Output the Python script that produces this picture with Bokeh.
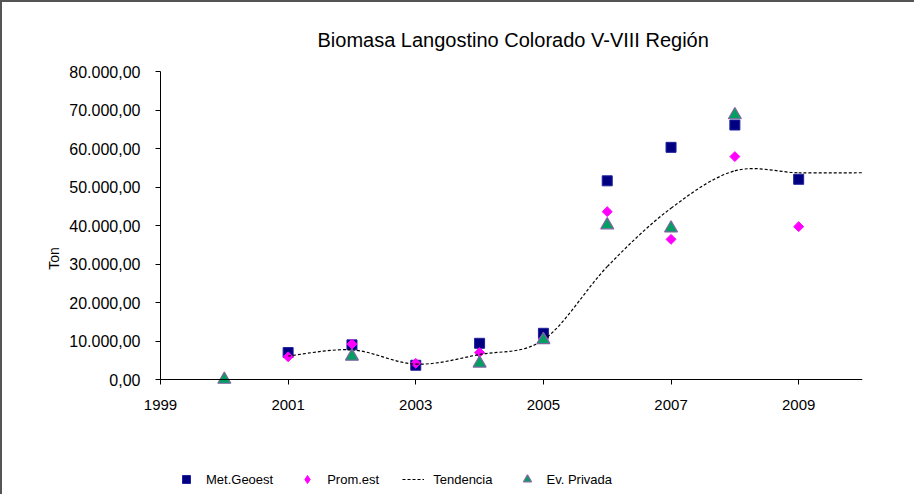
import math
from bokeh.plotting import figure
from bokeh.models import Range1d, FixedTicker, Legend, LegendItem, ColumnDataSource, Label
from bokeh.embed import file_html
from bokeh.resources import INLINE

# ---- data ----
title_text = "Biomasa Langostino Colorado V-VIII Región"
y_label = "Ton"

met_geoest_years = [2001, 2002, 2003, 2004, 2005, 2006, 2007, 2008, 2009]
met_geoest = [7000, 9000, 3700, 9400, 12000, 51600, 60300, 66100, 52000]

prom_est_years = [2001, 2002, 2003, 2004, 2005, 2006, 2007, 2008, 2009]
prom_est = [5900, 9200, 4200, 7000, 10500, 43600, 36400, 57900, 39700]

ev_privada_years = [2000, 2002, 2004, 2005, 2006, 2007, 2008]
ev_privada = [0, 6000, 4200, 10300, 40100, 39300, 68700]

tendencia_years = [2001, 2002, 2003, 2004, 2005, 2006, 2007, 2008, 2009, 2010]
tendencia = [6100, 7700, 4000, 6500, 10300, 29300, 44500, 54200, 53700, 53700]

x_ticks = [1999, 2001, 2003, 2005, 2007, 2009]
x_tick_labels = ["1999", "2001", "2003", "2005", "2007", "2009"]
y_ticks = [0, 10000, 20000, 30000, 40000, 50000, 60000, 70000, 80000]
y_tick_labels = ["0,00", "10.000,00", "20.000,00", "30.000,00", "40.000,00",
                 "50.000,00", "60.000,00", "70.000,00", "80.000,00"]

FONT = "Liberation Sans"

# ---- layout constants (pixels) ----
X_MIN, X_MAX = 1999, 2010
Y_MIN, Y_MAX = 0, 80000
AXIS_W = 702           # pixels from X_MIN to X_MAX
AXIS_H = 308           # pixels from Y_MIN to Y_MAX
LEFT_PX = 148          # frame pixels left of the y axis (tick labels live there)
BELOW_PX = 117         # frame pixels below the x axis (legend lives there)
ABOVE_PX = 12          # frame pixels above the top tick (so its label is not cut)
x_start = X_MIN - (X_MAX - X_MIN) * LEFT_PX / AXIS_W
y_start = Y_MIN - (Y_MAX - Y_MIN) * BELOW_PX / AXIS_H
y_end = Y_MAX + (Y_MAX - Y_MIN) * ABOVE_PX / AXIS_H

p = figure(width=914, height=494, output_backend="svg", toolbar_location=None,
           x_range=Range1d(x_start, X_MAX), y_range=Range1d(y_start, y_end),
           min_border_left=10, min_border_right=54, min_border_top=69 - ABOVE_PX,
           min_border_bottom=0)
p.styles = {"border-left": "2px solid #555555", "border-top": "2px solid #555555"}

p.title.text = title_text
p.title.align = "left"
p.title.offset = 305
p.title.text_font = FONT
p.title.text_font_size = "20px"
p.title.text_font_style = "normal"
p.title.text_color = "#000000"
p.title.standoff = 17

p.grid.visible = False
p.outline_line_color = None
p.background_fill_color = "white"
p.border_fill_color = "white"

for ax in (p.xaxis[0], p.yaxis[0]):
    ax.axis_line_color = "#000000"
    ax.major_tick_line_color = "#000000"
    ax.major_tick_out = 5
    ax.major_tick_in = 0
    ax.minor_tick_line_color = None
    ax.major_label_text_font = FONT
    ax.major_label_text_color = "#000000"

p.xaxis.ticker = FixedTicker(ticks=x_ticks)
p.xaxis.major_label_overrides = dict(zip(x_ticks, x_tick_labels))
p.xaxis.major_label_text_font_size = "15px"
p.xaxis.major_label_standoff = 15
p.xaxis.fixed_location = Y_MIN
p.xaxis.bounds = (X_MIN, X_MAX)

p.yaxis.ticker = FixedTicker(ticks=y_ticks)
p.yaxis.major_label_overrides = dict(zip(y_ticks, y_tick_labels))
p.yaxis.major_label_text_font_size = "16px"
p.yaxis.major_label_standoff = 15
p.yaxis.fixed_location = X_MIN
p.yaxis.bounds = (Y_MIN, Y_MAX)

# y axis title, placed left of the tick labels
p.add_layout(Label(x=X_MIN - (X_MAX - X_MIN) * 107 / AXIS_W,
                   y=Y_MAX * 121 / AXIS_H, text=y_label, angle=math.pi / 2,
                   text_align="center", text_baseline="middle",
                   text_font=FONT, text_font_size="14px", text_color="#000000"))

# ---- series ----
r_met = p.scatter(met_geoest_years, met_geoest, marker="square", size=10,
                  fill_color="#000080", line_color="#2020a0", line_width=1)
r_prom = p.scatter(prom_est_years, prom_est, marker="square", size=7,
                   angle=math.pi / 4,
                   fill_color="#FF00FF", line_color="#FF00FF", line_width=1)
# hidden legend swatch for the diamonds (rotated squares are not rotated in legends)
r_prom_key = p.scatter(prom_est_years, prom_est, marker="diamond", size=10,
                       fill_color="#FF00FF", line_color="#FF00FF", line_width=1,
                       visible=False)

# smoothed trend line: cubic Bezier segments through the trend values
n = len(tendencia_years)
bz = dict(x0=[], y0=[], x1=[], y1=[], cx0=[], cy0=[], cx1=[], cy1=[])
for i in range(n - 1):
    xa, ya = tendencia_years[i], tendencia[i]
    xb, yb = tendencia_years[i + 1], tendencia[i + 1]
    xp, yp = (tendencia_years[i - 1], tendencia[i - 1]) if i > 0 else (xa, ya)
    xn, yn = (tendencia_years[i + 2], tendencia[i + 2]) if i + 2 < n else (xb, yb)
    bz["x0"].append(xa); bz["y0"].append(ya)
    bz["x1"].append(xb); bz["y1"].append(yb)
    bz["cx0"].append(xa + (xb - xp) / 6.0); bz["cy0"].append(ya + (yb - yp) / 6.0)
    bz["cx1"].append(xb - (xn - xa) / 6.0); bz["cy1"].append(yb - (yn - ya) / 6.0)
r_tend = p.bezier(x0="x0", y0="y0", x1="x1", y1="y1", cx0="cx0", cy0="cy0",
                  cx1="cx1", cy1="cy1", source=ColumnDataSource(bz),
                  line_color="#000000", line_width=1.2, line_dash="3 2")

r_ev = p.scatter(ev_privada_years, ev_privada, marker="triangle", size=13,
                 fill_color="#00A060", line_color="#8064A2", line_width=1.2)

legend = Legend(items=[
    LegendItem(label="Met.Geoest", renderers=[r_met]),
    LegendItem(label="Prom.est", renderers=[r_prom_key]),
    LegendItem(label="Tendencia", renderers=[r_tend]),
    LegendItem(label="Ev. Privada", renderers=[r_ev]),
], orientation="horizontal", location=(163, 7))
legend.border_line_color = None
legend.background_fill_alpha = 0
legend.inactive_fill_alpha = 0
legend.padding = 6
legend.margin = 0
legend.spacing = 23
legend.glyph_width = 22
legend.glyph_height = 20
legend.label_standoff = 9
legend.label_text_font = FONT
legend.label_text_font_size = "13px"
legend.label_text_color = "#000000"
p.add_layout(legend, "center")

open("out.html", "w").write(file_html(p, INLINE))
